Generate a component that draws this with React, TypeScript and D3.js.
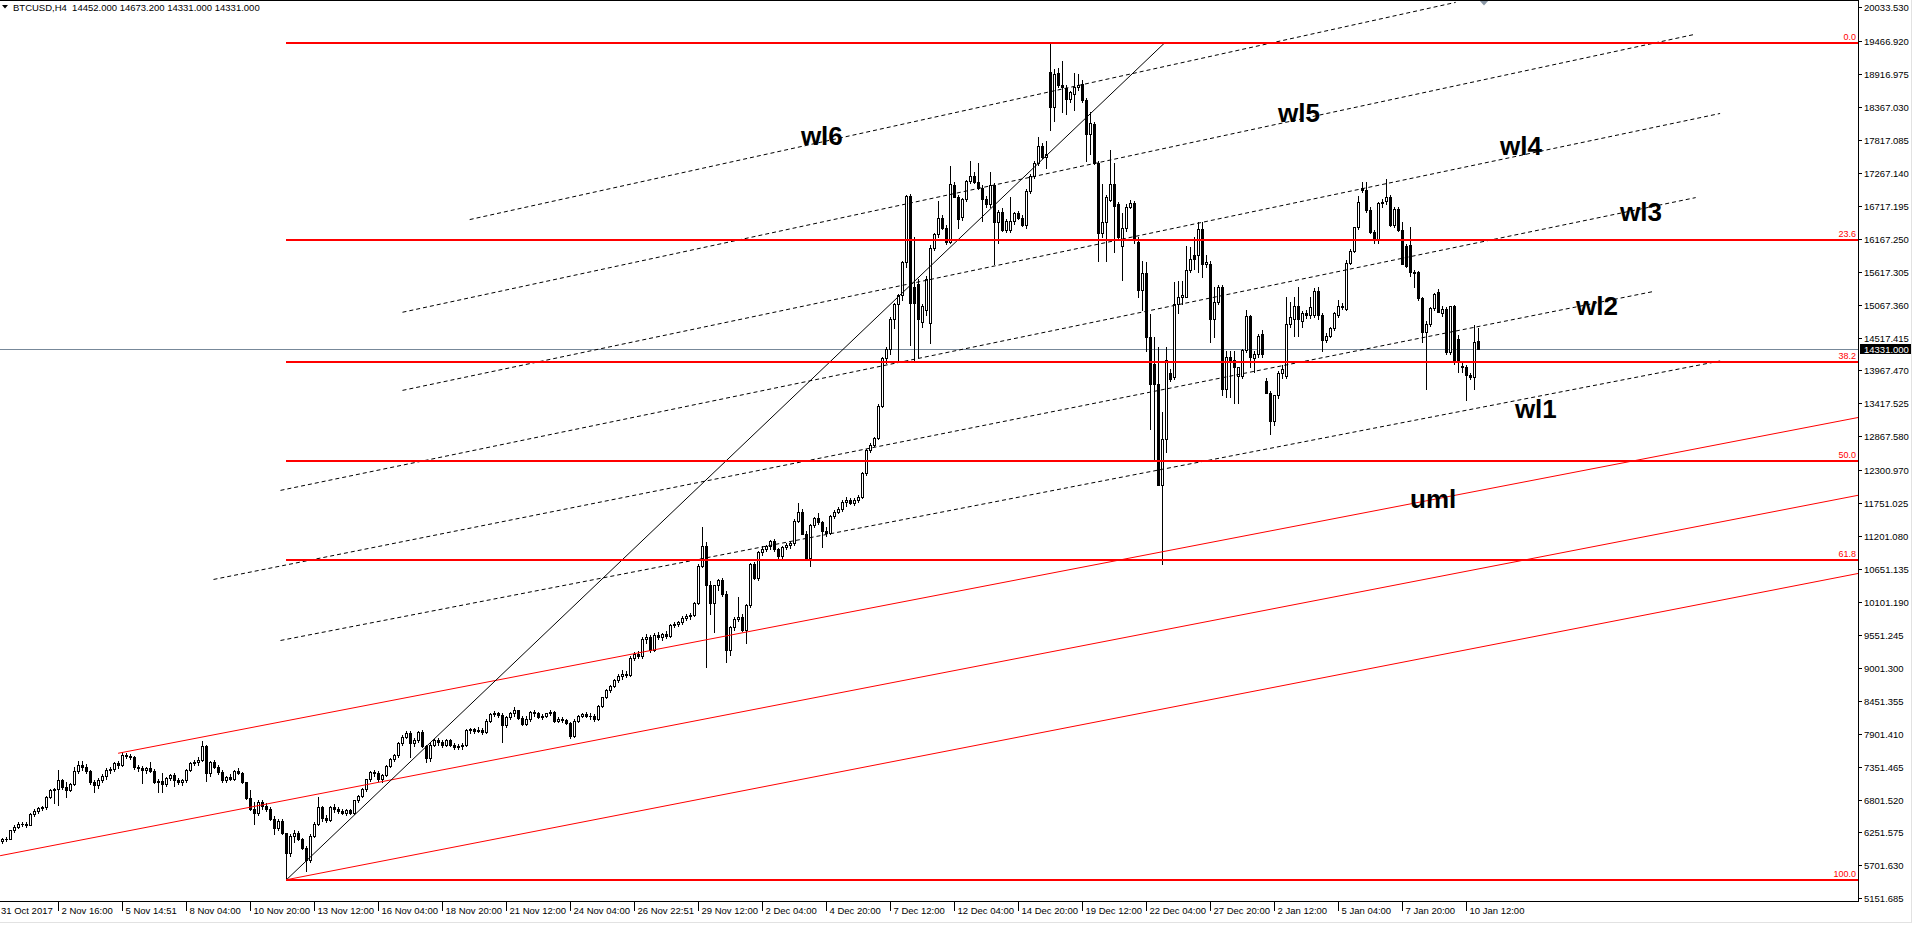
import * as d3 from "d3";

type Candle = [number, number, number, number]; // open, high, low, close

// 31 Oct - 12 Nov
const octNov: Candle[] = [
  [6110, 6160, 6080, 6140], [6140, 6180, 6110, 6150], [6150, 6300, 6140, 6290], [6290, 6380, 6260, 6350],
  [6350, 6420, 6320, 6390], [6390, 6430, 6360, 6400], [6400, 6420, 6350, 6380], [6380, 6580, 6370, 6560],
  [6560, 6640, 6530, 6610], [6610, 6680, 6570, 6660], [6660, 6700, 6620, 6670], [6670, 6860, 6650, 6840],
  [6840, 6980, 6820, 6960], [6960, 7000, 6740, 6980], [6980, 7300, 6710, 7120], [7120, 7150, 6980, 7010],
  [7010, 7100, 6850, 6960], [6960, 7080, 6940, 7060], [7060, 7340, 7040, 7270], [7270, 7450, 7240, 7380],
  [7380, 7450, 7300, 7350], [7350, 7400, 7250, 7280], [7280, 7300, 7060, 7090], [7090, 7120, 6930, 7040],
  [7040, 7160, 7000, 7130], [7130, 7230, 7100, 7200], [7200, 7320, 7150, 7300], [7300, 7340, 7250, 7310],
  [7310, 7420, 7280, 7410], [7410, 7450, 7330, 7380], [7380, 7590, 7360, 7540], [7540, 7580, 7500, 7530],
  [7530, 7560, 7480, 7510], [7510, 7530, 7310, 7340], [7340, 7380, 7280, 7320], [7320, 7360, 7080, 7300],
  [7300, 7340, 7250, 7320], [7320, 7430, 7260, 7280], [7280, 7310, 7080, 7100], [7100, 7140, 6930, 7110],
  [7110, 7250, 6920, 7060], [7060, 7180, 7020, 7160], [7160, 7230, 7130, 7210], [7210, 7250, 7020, 7130],
  [7130, 7160, 7060, 7090], [7090, 7150, 7050, 7130], [7130, 7310, 7100, 7290], [7290, 7430, 7270, 7410],
  [7410, 7460, 7370, 7420], [7420, 7520, 7380, 7460], [7460, 7780, 7440, 7690], [7690, 7720, 7110, 7250],
  [7250, 7440, 7200, 7420], [7420, 7460, 7330, 7350], [7350, 7380, 7220, 7260], [7260, 7290, 7100, 7130],
  [7130, 7200, 7090, 7180], [7180, 7220, 7120, 7140], [7140, 7290, 7120, 7280], [7280, 7330, 7220, 7240],
  [7240, 7260, 7080, 7090], [7090, 7100, 6810, 6830], [6830, 6960, 6620, 6650], [6650, 6760, 6400, 6580],
  [6580, 6800, 6550, 6760], [6760, 6790, 6640, 6700], [6700, 6740, 6610, 6650], [6650, 6680, 6460, 6480],
  [6480, 6520, 6230, 6320], [6320, 6470, 6290, 6450], [6450, 6470, 6230, 6240],
];

// 12 Nov low - 26 Nov
const novLow: Candle[] = [
  [6240, 6250, 5462, 5900], [5900, 6230, 5860, 6200], [6200, 6300, 6100, 6250], [6250, 6280, 6130, 6140],
  [6140, 6160, 5970, 6000], [6000, 6020, 5600, 5790], [5790, 6230, 5760, 6200], [6200, 6420, 6170, 6400],
  [6400, 6840, 6380, 6680], [6680, 6700, 6450, 6490], [6490, 6550, 6420, 6460], [6460, 6700, 6440, 6680],
  [6680, 6720, 6600, 6650], [6650, 6680, 6580, 6610], [6610, 6650, 6560, 6580], [6580, 6640, 6540, 6620],
  [6620, 6640, 6560, 6580], [6580, 6800, 6560, 6790], [6790, 6880, 6760, 6860], [6860, 6990, 6840, 6970],
  [6970, 7150, 6950, 7140], [7140, 7280, 7110, 7260], [7260, 7300, 7200, 7240], [7240, 7270, 7110, 7140],
  [7140, 7230, 7100, 7210], [7210, 7380, 7190, 7360], [7360, 7490, 7340, 7480], [7480, 7570, 7440, 7540],
  [7540, 7760, 7520, 7740], [7740, 7880, 7720, 7850], [7850, 7950, 7830, 7920], [7920, 7940, 7520, 7740],
  [7740, 7830, 7700, 7790], [7790, 7950, 7760, 7930], [7930, 7960, 7680, 7700], [7700, 7720, 7430, 7490],
  [7490, 7740, 7450, 7720], [7720, 7820, 7700, 7800], [7800, 7830, 7710, 7760], [7760, 7800, 7680, 7720],
  [7720, 7820, 7700, 7800], [7800, 7820, 7700, 7720], [7720, 7740, 7650, 7680], [7680, 7730, 7640, 7700],
  [7700, 7740, 7650, 7720], [7720, 7980, 7700, 7960], [7960, 8000, 7920, 7980], [7980, 8000, 7920, 7950],
  [7950, 8010, 7930, 7970], [7970, 7990, 7900, 7930], [7930, 8140, 7910, 8120], [8120, 8250, 8100, 8230],
  [8230, 8280, 8200, 8250], [8250, 8270, 8180, 8220], [8220, 8240, 7770, 8040], [8040, 8200, 8010, 8180],
  [8180, 8260, 8150, 8240], [8240, 8350, 8200, 8290], [8290, 8300, 8150, 8170], [8170, 8190, 8040, 8060],
  [8060, 8200, 8040, 8150], [8150, 8280, 8120, 8260], [8260, 8290, 8200, 8240], [8240, 8260, 8160, 8180],
  [8180, 8230, 8150, 8200], [8200, 8250, 8180, 8240], [8240, 8300, 8210, 8270], [8270, 8280, 8100, 8120],
  [8120, 8180, 8090, 8150], [8150, 8180, 8090, 8130], [8130, 8150, 8060, 8080], [8080, 8100, 7830, 7860],
  [7860, 8140, 7840, 8120], [8120, 8220, 8100, 8200], [8200, 8250, 8180, 8230], [8230, 8260, 8180, 8200],
  [8200, 8240, 8150, 8190], [8190, 8230, 8120, 8150], [8150, 8380, 8130, 8370], [8370, 8520, 8350, 8510],
  [8510, 8640, 8490, 8630], [8630, 8720, 8600, 8700], [8700, 8820, 8680, 8800], [8800, 8900, 8770, 8870],
];

// 27 Nov - 16 Dec
const novDec: Candle[] = [
  [8870, 8960, 8820, 8900], [8900, 8950, 8840, 8880], [8880, 9200, 8860, 9170], [9170, 9260, 9130, 9230],
  [9230, 9280, 9170, 9200], [9200, 9520, 9160, 9480], [9480, 9560, 9420, 9520], [9520, 9550, 9270, 9300],
  [9300, 9580, 9280, 9550], [9550, 9600, 9480, 9520], [9520, 9580, 9470, 9560], [9560, 9620, 9500, 9540],
  [9540, 9740, 9520, 9710], [9710, 9760, 9680, 9740], [9740, 9790, 9700, 9770], [9770, 9860, 9740, 9840],
  [9840, 9900, 9800, 9870], [9870, 9920, 9820, 9890], [9890, 10100, 9860, 10080], [10080, 10740, 10060, 10710],
  [10710, 11350, 10690, 11030], [11030, 11100, 9010, 10390], [10390, 10450, 9900, 10090], [10090, 10390, 9600, 10380],
  [10380, 10480, 10300, 10460], [10460, 10500, 10200, 10240], [10240, 10280, 9100, 9300], [9300, 9700, 9220, 9680],
  [9680, 9850, 9640, 9820], [9820, 10180, 9790, 9850], [9850, 9900, 9620, 9640], [9640, 10060, 9420, 10050],
  [10050, 10760, 10020, 10730], [10730, 10770, 10480, 10500], [10500, 10950, 10470, 10930], [10930, 11030, 10880, 10990],
  [10990, 11060, 10950, 11030], [11030, 11140, 10980, 11120], [11120, 11150, 10960, 10980], [10980, 11000, 10840, 10870],
  [10870, 11040, 10840, 11020], [11020, 11080, 10980, 11050], [11050, 11100, 11000, 11080], [11080, 11480, 11050, 11460],
  [11460, 11750, 11430, 11610], [11610, 11650, 11230, 11240], [11240, 11280, 10820, 10840], [10840, 11400, 10700, 11390],
  [11390, 11520, 11360, 11500], [11500, 11580, 11400, 11430], [11430, 11460, 11020, 11280], [11280, 11360, 11200, 11260],
  [11260, 11560, 11240, 11540], [11540, 11640, 11500, 11610], [11610, 11680, 11580, 11650], [11650, 11800, 11620, 11770],
  [11770, 11850, 11700, 11800], [11800, 11840, 11730, 11760], [11760, 11830, 11720, 11800], [11800, 11880, 11770, 11850],
  [11850, 12270, 11830, 12250], [12250, 12660, 12230, 12640], [12640, 12760, 12600, 12730], [12730, 12860, 12700, 12840],
  [12840, 13400, 12820, 13380], [13380, 14200, 13350, 14180], [14180, 14360, 14100, 14330], [14330, 14860, 14250, 14830],
  [14830, 15090, 14680, 15080], [15080, 15240, 14110, 15230], [15230, 15800, 15150, 15780], [15780, 16900, 15700, 16880],
  [16880, 16920, 14390, 15100], [15360, 16190, 14150, 15100], [15410, 15500, 14190, 14830], [14780, 15080, 14700, 15040],
  [14980, 15550, 14900, 15500], [14760, 16060, 14430, 16020], [16020, 16260, 15980, 16250], [16250, 16790, 16200, 16520],
  [16520, 16560, 16330, 16350], [16350, 16400, 16080, 16120], [16120, 17390, 16100, 17090], [17070, 17120, 16860, 16870],
  [16870, 16900, 16350, 16500], [16530, 16850, 16480, 16830], [16830, 17150, 16800, 17140], [17140, 17460, 17100, 17210],
  [17220, 17280, 17100, 17110], [17110, 17440, 17000, 17020], [17020, 17060, 16460, 16830], [16830, 16880, 16700, 16740],
  [16740, 17280, 16700, 17070], [17070, 17100, 15750, 16440], [16440, 16650, 16090, 16620], [16620, 16680, 16300, 16320],
  [16320, 16490, 16280, 16460], [16310, 16870, 16280, 16470], [16470, 16620, 16420, 16590], [16590, 16630, 16490, 16520],
  [16520, 16560, 16380, 16400], [16400, 17000, 16350, 16970], [16970, 17250, 16930, 17220], [17220, 17460, 17180, 17440],
  [17440, 17860, 17400, 17710], [17710, 17760, 17520, 17540], [17540, 17800, 17350, 17580],
];

// 17 Dec - 22 Dec
const decPeak: Candle[] = [
  [18950, 19440, 17990, 18360], [18360, 19000, 18130, 18920], [18940, 19020, 18700, 18730], [18730, 19140, 18290, 18700],
  [18690, 18730, 18250, 18510], [18510, 18640, 18450, 18620], [18580, 18930, 18320, 18710], [18710, 18920, 18660, 18730],
  [18750, 18820, 18460, 18480], [18480, 18520, 17460, 17910], [17910, 18280, 17580, 18100], [18080, 18110, 17420, 17430],
  [17430, 17460, 15790, 16270], [16270, 17080, 16200, 16450], [16450, 16900, 15790, 16860], [16820, 17650, 16800, 17080],
  [17080, 17430, 15940, 16720], [16740, 16780, 16140, 16190], [16050, 16600, 15480, 16350], [16350, 16740, 16300, 16700],
  [16700, 16810, 16680, 16760], [16760, 16800, 16100, 16140], [16120, 16200, 15200, 15305], [15305, 15800, 14970, 15590],
  [15590, 15780, 14300, 14530],
];

// 22 Dec - 11 Jan
const decJan: Candle[] = [
  [14530, 14910, 12990, 13750], [14080, 14520, 12470, 13750], [13750, 14360, 12060, 12060], [12060, 13270, 10740, 12830],
  [12830, 14360, 12610, 14150], [13920, 14000, 13800, 13830], [13860, 15440, 13830, 15080], [15080, 15470, 14920, 15190],
  [15190, 15470, 15080, 15220], [15190, 16050, 15190, 15650], [15650, 16030, 15620, 15830], [15890, 16190, 15670, 15830],
  [15890, 16440, 15610, 16330], [16330, 16440, 15530, 15750], [15750, 15890, 15700, 15780], [15740, 15800, 14440, 14830],
  [14830, 15360, 14530, 15110], [15110, 15400, 15080, 15360], [15360, 15390, 13550, 13660], [13660, 14300, 13530, 14200],
  [14200, 14300, 13530, 14150], [14140, 14300, 13420, 14030], [13870, 14030, 13420, 14030], [13870, 14320, 13850, 14310],
  [14310, 14980, 14280, 14870], [14870, 14900, 14030, 14190], [14180, 14300, 13940, 14240], [14240, 14570, 14200, 14550],
  [14570, 14640, 14200, 14240], [13800, 13840, 13590, 13590], [13590, 13620, 12910, 13120], [13120, 13560, 13050, 13550],
  [13550, 13960, 13510, 13930], [13930, 14060, 13850, 14000], [13870, 15200, 13850, 14750], [14750, 15110, 14700, 14860],
  [14830, 15190, 14550, 15050], [15050, 15360, 14550, 14830], [14800, 14960, 14700, 14920], [14920, 14980, 14850, 14900],
  [14890, 15190, 14850, 15030], [14890, 15340, 14860, 15300], [15300, 15360, 14830, 14890], [14890, 14920, 14300, 14480],
  [14480, 14600, 14440, 14550], [14550, 14700, 14520, 14670], [14670, 14950, 14640, 14920], [14890, 15140, 14860, 15050],
  [15050, 15090, 14990, 15030], [15000, 15810, 14980, 15760], [15770, 16000, 15740, 15970], [15970, 16370, 15940, 16360],
  [16360, 16890, 16330, 16780], [17010, 17110, 16950, 16980], [16990, 17110, 16620, 16650], [16650, 16700, 16270, 16280],
  [16280, 16310, 16100, 16140], [16140, 16780, 16100, 16760], [16760, 16830, 16700, 16780], [16790, 17170, 16740, 16860],
  [16860, 16900, 16380, 16400], [16400, 16690, 16360, 16670], [16670, 16700, 16290, 16310], [16310, 16440, 15750, 15750],
  [16050, 16080, 15700, 15720], [16070, 16360, 15540, 15610], [15610, 15650, 15360, 15590], [15610, 15630, 15150, 15170],
  [15170, 15200, 14440, 14610], [14610, 14790, 13650, 14750], [14750, 15030, 14710, 15010], [15010, 15260, 14980, 15250],
  [15280, 15330, 14940, 14940], [14930, 15040, 14870, 15000], [15000, 15020, 14250, 14280], [14280, 15040, 14250, 15040],
  [15040, 15060, 14080, 14110], [14500, 14560, 13940, 14110], [14050, 14100, 13940, 14020], [14030, 14060, 13470, 13890],
  [13890, 13920, 13820, 13860], [13860, 14720, 13660, 14440], [14452, 14673.2, 14331, 14331],
];

const priceTicks = [
  20033.53, 19466.92, 18916.975, 18367.03, 17817.085, 17267.14, 16717.195, 16167.25, 15617.305, 15067.36,
  14517.415, 13967.47, 13417.525, 12867.58, 12300.97, 11751.025, 11201.08, 10651.135, 10101.19, 9551.245,
  9001.3, 8451.355, 7901.41, 7351.465, 6801.52, 6251.575, 5701.63, 5151.685,
];

const timeLabels = [
  "31 Oct 2017", "2 Nov 16:00", "5 Nov 14:51", "8 Nov 04:00", "10 Nov 20:00", "13 Nov 12:00", "16 Nov 04:00",
  "18 Nov 20:00", "21 Nov 12:00", "24 Nov 04:00", "26 Nov 22:51", "29 Nov 12:00", "2 Dec 04:00", "4 Dec 20:00",
  "7 Dec 12:00", "12 Dec 04:00", "14 Dec 20:00", "19 Dec 12:00", "22 Dec 04:00", "27 Dec 20:00", "2 Jan 12:00",
  "5 Jan 04:00", "7 Jan 20:00", "10 Jan 12:00",
];
const timeLabelBars = [-2, 14, 30, 46, 62, 78, 94, 110, 126, 142, 158, 174, 190, 206, 222, 238, 254, 270, 286, 302, 318, 334, 350, 366];

const fibHigh = 19443;
const fibLow = 5462;
const fibStartBar = 71;
const fibLevels = [0, 23.6, 38.2, 50, 61.8, 100];
const fibTexts = ["0.0", "23.6", "38.2", "50.0", "61.8", "100.0"];

const lastPrice = 14331;
const header = "BTCUSD,H4  14452.000 14673.200 14331.000 14331.000";

// [bar, price] endpoints
const forkLines: [number, number][][] = [
  [[28.9, 7574], [463.9, 13182]],
  [[-0.6, 5863], [463.9, 11883]],
  [[71, 5462], [463.9, 10577]],
];
const warningLines: [number, number][][] = [
  [[69.5, 9458], [429.4, 14126]],
  [[52.75, 10477], [412.6, 15285]],
  [[69.5, 11965], [423.3, 16855]],
  [[100, 13635], [429.4, 18260]],
  [[100, 14940], [423.3, 19585]],
  [[116.8, 16488], [363.3, 20116]],
];
const trendLine: [number, number][] = [[71, 5462], [290.6, 19443]];

const lineLabels: [string, number, number][] = [
  ["wl6", 199.6, 17734], ["wl5", 318.9, 18118], ["wl4", 374.4, 17567], ["wl3", 404.4, 16465],
  ["wl2", 393.4, 14894], ["wl1", 378.1, 13174], ["uml", 351.9, 11671],
];

export default function App() {
  const W = 1913;
  const H = 952;
  const plotR = 1858;
  const plotB = 901;
  const candles = [...octNov, ...novLow, ...novDec, ...decPeak, ...decJan];

  const x = d3.scaleLinear().domain([0, 1]).range([2.5, 6.5]);
  const y = d3.scaleLinear().domain([5151.685, 20033.53]).range([898.3, 7.3]);
  const font = "'Liberation Sans', Arial, sans-serif";
  const line = d3.line<[number, number]>().x(d => x(d[0])).y(d => y(d[1]));

  return (
    <div style={{ position: "absolute", left: 0, top: 0 }}>
      <svg width={W} height={H} style={{ display: "block", background: "#fff" }}>
        <defs>
          <clipPath id="plot">
            <rect x={0} y={0} width={plotR} height={plotB} />
          </clipPath>
        </defs>

        <g clipPath="url(#plot)">
          {/* last price line */}
          <line x1={0} x2={plotR} y1={Math.round(y(lastPrice)) + 0.5} y2={Math.round(y(lastPrice)) + 0.5}
            stroke="#778899" strokeWidth={1} />

          {/* candles */}
          {candles.map((c, i) => {
            const [o, h, l, cl] = c;
            const cx = Math.floor(x(i)) + 0.5;
            const top = Math.round(y(Math.max(o, cl)));
            const bot = Math.round(y(Math.min(o, cl)));
            const up = cl >= o;
            return (
              <g key={i}>
                <line x1={cx} x2={cx} y1={Math.round(y(h))} y2={Math.round(y(l)) + 1} stroke="#000" strokeWidth={1} />
                {bot - top < 1 ? (
                  <line x1={cx - 1.5} x2={cx + 1.5} y1={top + 0.5} y2={top + 0.5} stroke="#000" strokeWidth={1} />
                ) : (
                  <rect x={cx - 1} y={top + 0.5} width={2} height={bot - top}
                    fill={up ? "#fff" : "#000"} stroke="#000" strokeWidth={1} />
                )}
              </g>
            );
          })}

          {/* pitchfork lines */}
          {forkLines.map((pts, i) => (
            <path key={"f" + i} d={line(pts) ?? ""} fill="none" stroke="#ff0000" strokeWidth={1} />
          ))}

          {/* warning lines */}
          {warningLines.map((pts, i) => (
            <path key={"w" + i} d={line(pts) ?? ""} fill="none" stroke="#000" strokeWidth={1} strokeDasharray="4,3" />
          ))}

          {/* trend line */}
          <path d={line(trendLine) ?? ""} fill="none" stroke="#000" strokeWidth={1} />

          {/* fibonacci levels */}
          {fibLevels.map((lv, i) => {
            const yy = Math.round(y(fibHigh - (fibHigh - fibLow) * lv / 100));
            return (
              <g key={"fib" + i}>
                <line x1={Math.floor(x(fibStartBar))} x2={plotR} y1={yy} y2={yy} stroke="#ff0000" strokeWidth={2} />
                <text x={plotR - 2} y={yy - 3} textAnchor="end" fontFamily={font} fontSize={9} fill="#ff0000">
                  {fibTexts[i]}
                </text>
              </g>
            );
          })}

          {/* line labels */}
          {lineLabels.map(([t, b, p]) => (
            <text key={t} x={x(b)} y={y(p)} fontFamily={font} fontSize={26} fontWeight="bold" fill="#000">{t}</text>
          ))}
        </g>

        {/* chart shift marker */}
        <polygon points="1479,0 1489,0 1484,5.5" fill="#8a97a5" />

        {/* frame and axes */}
        <line x1={0} x2={plotR + 1} y1={0.5} y2={0.5} stroke="#000" />
        <line x1={plotR + 0.5} x2={plotR + 0.5} y1={0} y2={plotB + 1} stroke="#000" />
        <line x1={0} x2={plotR + 1} y1={plotB + 0.5} y2={plotB + 0.5} stroke="#000" />
        <line x1={0} x2={1912} y1={922.5} y2={922.5} stroke="#e2e2e2" />
        <line x1={1911.5} x2={1911.5} y1={0} y2={923} stroke="#e2e2e2" />

        {/* price axis */}
        {priceTicks.map((p, i) => {
          const yy = Math.round(y(p)) + 0.5;
          return (
            <g key={"pt" + i}>
              <line x1={plotR} x2={plotR + 4} y1={yy} y2={yy} stroke="#000" />
              <text x={plotR + 6} y={yy + 3.5} fontFamily={font} fontSize={9.5} fill="#000">{p.toFixed(3)}</text>
            </g>
          );
        })}
        <rect x={plotR + 2} y={Math.round(y(lastPrice)) - 5} width={51} height={10} fill="#000" />
        <text x={plotR + 6} y={Math.round(y(lastPrice)) + 4} fontFamily={font} fontSize={9.5} fill="#fff">
          {lastPrice.toFixed(3)}
        </text>

        {/* time axis */}
        {timeLabels.map((t, i) => {
          const xx = Math.floor(x(timeLabelBars[i])) + 0.5;
          return (
            <g key={"tl" + i}>
              {xx > 0 && <line x1={xx} x2={xx} y1={plotB + 1} y2={plotB + 10} stroke="#000" />}
              <text x={Math.max(1, xx + 3)} y={plotB + 13} fontFamily={font} fontSize={9.5} fill="#000">{t}</text>
            </g>
          );
        })}

        {/* header */}
        <polygon points="2,5 8,5 5,8.5" fill="#000" />
        <text x={13} y={11} fontFamily={font} fontSize={9.5} fill="#000" xmlSpace="preserve">{header}</text>
      </svg>
    </div>
  );
}
